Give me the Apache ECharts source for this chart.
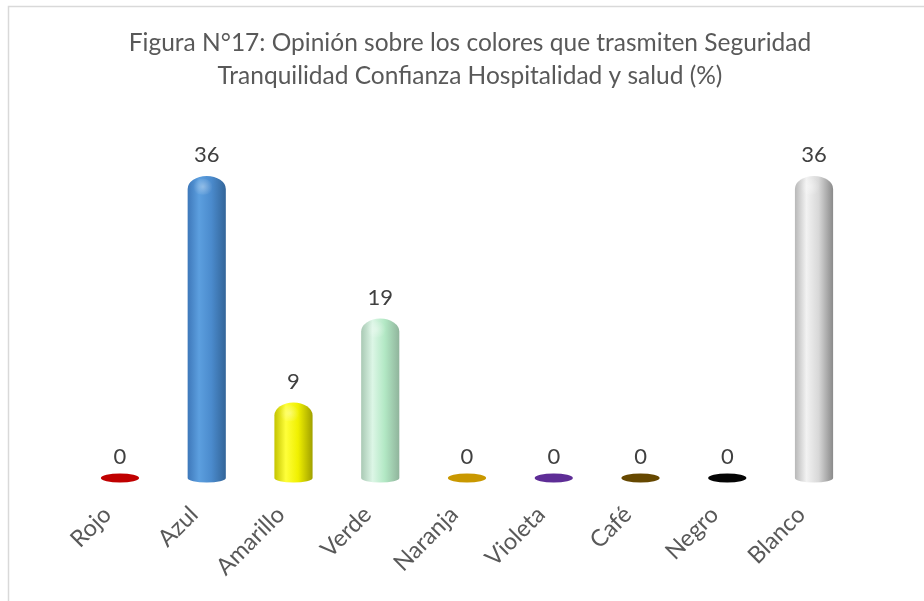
<!DOCTYPE html>
<html>
<head>
<meta charset="utf-8">
<script src="https://cdn.jsdelivr.net/npm/echarts@6/dist/echarts.min.js"></script>
<style>
  html, body { margin: 0; padding: 0; background: #ffffff; }
  #chart { width: 924px; height: 601px; }
</style>
</head>
<body>
<div id="chart"></div>
<script>
// Survey answers: colours conveying safety, calm, trust, hospitality and health (%)
const categories = ['Rojo', 'Azul', 'Amarillo', 'Verde', 'Naranja', 'Violeta', 'Café', 'Negro', 'Blanco'];
const percentages = [0, 36, 9, 19, 0, 0, 0, 0, 36];
const titleLines = [
  'Figura N°17: Opinión sobre los colores que trasmiten Seguridad',
  'Tranquilidad Confianza Hospitalidad y salud (%)'
];

// Shading for each cylinder: edge, highlight, body, shadow
const shades = [
  { edge: '#a00000', light: '#e01010', body: '#c00000', dark: '#900000' },
  { edge: '#3e78ba', light: '#5c9fdf', body: '#4b8bcd', dark: '#336599' },
  { edge: '#c4c400', light: '#ffff3a', body: '#f0f000', dark: '#a0a000' },
  { edge: '#a9c9b4', light: '#dcf6e6', body: '#b2e8c4', dark: '#90b49c' },
  { edge: '#b48700', light: '#d6a300', body: '#c99800', dark: '#a07800' },
  { edge: '#4f2580', light: '#6a38a8', body: '#5e2d96', dark: '#45206f' },
  { edge: '#573b00', light: '#735200', body: '#664800', dark: '#4a3300' },
  { edge: '#000000', light: '#1a1a1a', body: '#050505', dark: '#000000' },
  { edge: '#b8b8b8', light: '#f2f2f2', body: '#d8d8d8', dark: '#8a8a8a' }
];

const FONT = 'Lato, "Open Sans", sans-serif';

function renderCylinder(params, api) {
  const idx = api.value(0);
  const val = api.value(1);
  const top = api.coord([idx, val]);
  const base = api.coord([idx, 0]);
  const w = api.size([1, 0])[0] * 0.44;
  const rx = w / 2;
  const cx = top[0];
  const xl = cx - rx, xr = cx + rx;
  const yb = base[1], yt = top[1];
  const ryB = 4.5;
  const s = shades[idx];
  const children = [];

  if (val === 0) {
    // Flat disc for an empty column
    children.push({
      type: 'path',
      shape: {
        pathData: `M${xl},${yb} A${rx},${ryB} 0 1 1 ${xr},${yb} A${rx},${ryB} 0 1 1 ${xl},${yb} Z`
      },
      style: { fill: s.body }
    });
  } else {
    const ryT = Math.min(13, (yb - yt) / 2);
    children.push({
      type: 'path',
      shape: {
        pathData: `M${xl},${yb} L${xl},${yt + ryT} A${rx},${ryT} 0 0 1 ${xr},${yt + ryT} L${xr},${yb} A${rx},${ryB} 0 0 1 ${xl},${yb} Z`
      },
      style: {
        fill: new echarts.graphic.LinearGradient(0, 0, 1, 0, [
          { offset: 0, color: s.edge },
          { offset: 0.3, color: s.light },
          { offset: 0.62, color: s.body },
          { offset: 1, color: s.dark }
        ])
      }
    });
    // Soft sheen on the rounded cap
    children.push({
      type: 'path',
      shape: {
        pathData: `M${cx - rx * 0.75},${yt + ryT} A${rx * 0.55},${ryT * 0.8} 0 0 1 ${cx + rx * 0.35},${yt + ryT} A${rx * 0.55},${ryT * 0.45} 0 0 1 ${cx - rx * 0.75},${yt + ryT} Z`
      },
      style: {
        fill: new echarts.graphic.RadialGradient(0.5, 0.5, 0.6, [
          { offset: 0, color: 'rgba(255,255,255,0.35)' },
          { offset: 1, color: 'rgba(255,255,255,0)' }
        ])
      }
    });
  }

  // Value label above the column
  children.push({
    type: 'text',
    style: {
      text: String(val),
      x: cx,
      y: yt - 21,
      align: 'center',
      verticalAlign: 'middle',
      fontSize: 22,
      fontFamily: FONT,
      fill: '#404040'
    }
  });

  return { type: 'group', children: children };
}

const chart = echarts.init(document.getElementById('chart'), null, { renderer: 'canvas' });

chart.setOption({
  backgroundColor: '#ffffff',
  animation: false,
  graphic: [
    {
      type: 'rect',
      shape: { x: 8.5, y: 6.5, width: 1000, height: 1000 },
      style: { fill: 'none', stroke: '#d9d9d9', lineWidth: 1.5 },
      silent: true
    },
    {
      type: 'text',
      x: 470,
      y: 27,
      style: {
        text: titleLines.join('\n'),
        align: 'center',
        verticalAlign: 'top',
        fontSize: 24.5,
        lineHeight: 33,
        fontFamily: FONT,
        fill: '#595959'
      },
      silent: true
    }
  ],
  grid: { left: 76.6, right: 66.6, top: 142.4, bottom: 123 },
  xAxis: {
    type: 'category',
    data: categories,
    axisLine: { show: false },
    axisTick: { show: false },
    axisLabel: {
      rotate: 45,
      margin: 20,
      padding: [0, 18, 0, 0],
      interval: 0,
      fontSize: 23.5,
      fontFamily: FONT,
      color: '#595959'
    }
  },
  yAxis: {
    type: 'value',
    min: 0,
    max: 40,
    show: false,
    splitLine: { show: false }
  },
  series: [{
    type: 'custom',
    renderItem: renderCylinder,
    data: percentages.map((v, i) => [i, v]),
    encode: { x: 0, y: 1 },
    clip: false
  }]
});
</script>
</body>
</html>
